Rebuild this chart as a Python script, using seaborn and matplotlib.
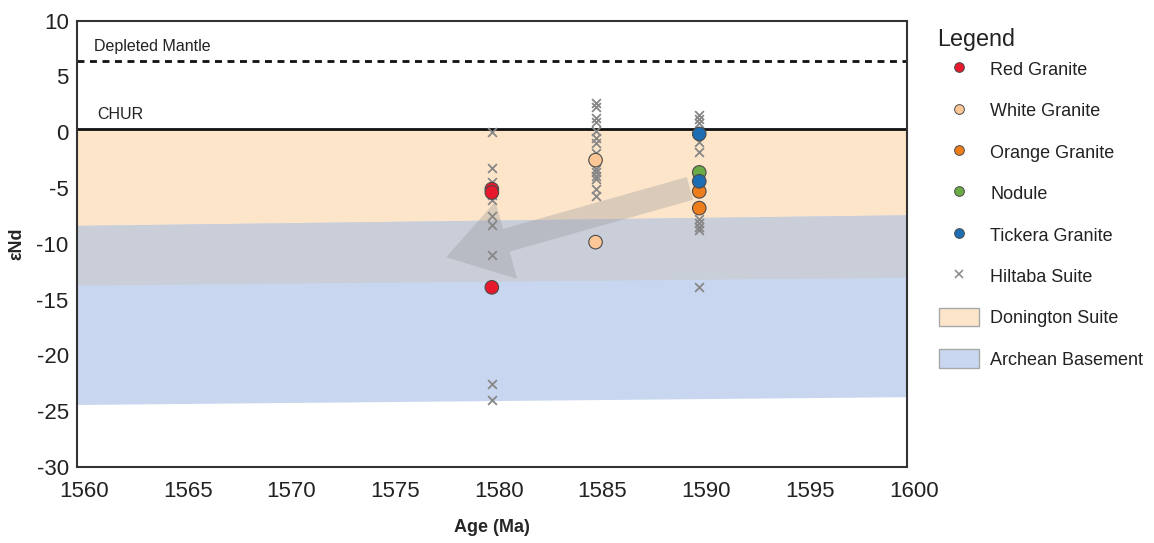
import numpy as np
import pandas as pd
import matplotlib
matplotlib.use("Agg")
import matplotlib.pyplot as plt
import seaborn as sns
from matplotlib.lines import Line2D
from matplotlib.patches import Patch
from matplotlib.transforms import ScaledTranslation

# sample data
red_age = [1580, 1580, 1580]
red_end = [-5.1, -5.4, -13.9]
white_age = [1585, 1585]
white_end = [-2.5, -9.85]
orange_age = [1590, 1590]
orange_end = [-5.3, -6.8]
nodule_age = [1590]
nodule_end = [-3.6]
tickera_age = [1590, 1590]
tickera_end = [-0.15, -4.4]

hilt_age = [1580] * 10 + [1585] * 14 + [1590] * 10
hilt_end = [0.0, -3.2, -4.5, -5.6, -6.1, -7.5, -8.3, -11.0, -22.6, -24.0,
            2.6, 2.3, 1.3, 0.9, 0.1, -0.5, -1.0, -1.9, -3.3, -3.6, -3.9, -4.2, -5.1, -5.7,
            1.5, 1.2, 0.85, -0.9, -1.8, -7.75, -8.1, -8.5, -8.8, -13.9]

# fields (left and right ends)
band_x = [1560, 1600]
don_top = [0.3, 0.3]
don_bot = [-13.7, -13.0]
arc_top = [-8.35, -7.4]
arc_bot = [-24.4, -23.7]

chur = 0.3
depleted = 6.4

units = ["Red Granite", "White Granite", "Orange Granite", "Nodule", "Tickera Granite"]
colors = ["#e8192c", "#fcc696", "#ee7d1c", "#6aab45", "#1d6db3"]

df = pd.DataFrame({
    "age": red_age + white_age + orange_age + nodule_age + tickera_age,
    "end": red_end + white_end + orange_end + nodule_end + tickera_end,
    "unit": (["Red Granite"] * len(red_age) + ["White Granite"] * len(white_age)
             + ["Orange Granite"] * len(orange_age) + ["Nodule"] * len(nodule_age)
             + ["Tickera Granite"] * len(tickera_age)),
})
hilt = pd.DataFrame({"age": hilt_age, "end": hilt_end})

sns.set_style("white")
plt.rcParams["font.family"] = ["Liberation Sans", "DejaVu Sans"]
plt.rcParams["axes.unicode_minus"] = False

fig = plt.figure(figsize=(11.54, 5.43), dpi=100)
ax = fig.add_axes([0.0667, 0.140, 0.719, 0.822])

peach = "#fde5ca"
blue = "#c8d7ef"
grey = "#c9ced9"
ax.fill_between(band_x, don_bot, don_top, color=peach, lw=0, zorder=0.5)
ax.fill_between(band_x, arc_bot, arc_top, color=blue, lw=0, zorder=0.5)
ax.fill_between(band_x, don_bot, arc_top, color=grey, lw=0, zorder=0.6)

ax.axhline(chur, color="#111111", lw=2, zorder=2)
ax.axhline(depleted, color="#111111", lw=2, ls=(0, (2.5, 2)), zorder=2)
ax.text(1560.8, depleted + 1.3, "Depleted Mantle", fontsize=11.5, va="center", color="#222222")
ax.text(1561.0, chur + 1.3, "CHUR", fontsize=11.5, va="center", color="#222222")

# trend arrow
ax.annotate("", xy=(1577.8, -11.2), xytext=(1589.55, -5.04),
            arrowprops=dict(arrowstyle="simple,head_length=45,head_width=58,tail_width=17",
                            mutation_scale=1, color="#9a9a9a", alpha=0.35, lw=0,
                            shrinkA=0, shrinkB=0), zorder=2.5)

sns.scatterplot(data=hilt, x="age", y="end", marker="x", color="#878787",
                s=40, linewidth=1.3, ax=ax, zorder=3, legend=False)
sns.scatterplot(data=df, x="age", y="end", hue="unit", hue_order=units,
                palette=colors, s=95, edgecolor="#4a4a4a", linewidth=0.8,
                ax=ax, zorder=4, legend=False)

ax.set_xlim(1560, 1600)
ax.set_ylim(-30, 10)
ax.set_xticks(np.arange(1560, 1601, 5))
ax.set_yticks(np.arange(-30, 11, 5))
ax.tick_params(axis="both", length=0, labelsize=16, colors="#222222")
ax.tick_params(axis="x", pad=10)
ax.tick_params(axis="y", pad=6)
for lab in ax.get_xticklabels():
    lab.set_transform(lab.get_transform() + ScaledTranslation(0.07, 0, fig.dpi_scale_trans))
for sp in ax.spines.values():
    sp.set_color("#333333")
    sp.set_linewidth(1.5)
ax.set_xlabel("Age (Ma)", fontsize=13, fontweight="bold", labelpad=12)
ax.set_ylabel("εNd", fontsize=13, fontweight="bold", labelpad=8)

handles = [Line2D([], [], marker="o", ls="", markersize=7, markerfacecolor=c,
                  markeredgecolor="#4a4a4a", markeredgewidth=0.7) for c in colors]
handles.append(Line2D([], [], marker="x", ls="", markersize=6, color="#878787", markeredgewidth=1.1))
handles.append(Patch(facecolor=peach, edgecolor="#a8a8a8", lw=1))
handles.append(Patch(facecolor=blue, edgecolor="#a8a8a8", lw=1))
labels = units + ["Hiltaba Suite", "Donington Suite", "Archean Basement"]

fig.text(0.812, 0.927, "Legend", fontsize=16.8, va="center", ha="left", color="#222222")
leg = fig.legend(handles, labels, loc="upper left", bbox_to_anchor=(0.800, 0.920),
                 frameon=False, fontsize=13, labelspacing=1.22, handlelength=2.2,
                 handleheight=1.2, handletextpad=0.6)
for t in leg.get_texts():
    t.set_color("#222222")

fig.savefig("out.png", dpi=100)
